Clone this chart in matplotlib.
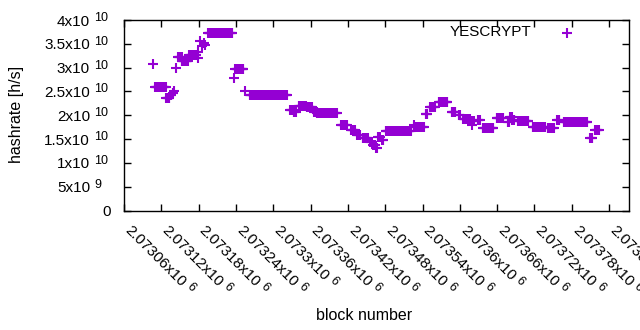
import numpy as np
import matplotlib
matplotlib.use("Agg")
import matplotlib.pyplot as plt
from matplotlib.transforms import ScaledTranslation

plt.rcParams['font.family'] = ['Liberation Sans', 'DejaVu Sans']

# Segments of consecutive blocks sharing the same hashrate estimate (h/s, in 1e10)
seg_start = [2073106, 2073110, 2073128, 2073135, 2073138, 2073141, 2073144, 2073147, 2073153, 2073165,
             2073179, 2073179, 2073182, 2073185, 2073188, 2073191, 2073195, 2073237, 2073239, 2073255,
             2073262, 2073327, 2073333, 2073341, 2073354, 2073366, 2073370, 2073409, 2073425, 2073435,
             2073444, 2073456, 2073461, 2073465, 2073469, 2073475, 2073481, 2073526, 2073527, 2073545,
             2073552, 2073566, 2073587, 2073598, 2073605, 2073617, 2073619, 2073629, 2073637, 2073659,
             2073677, 2073681, 2073684, 2073693, 2073717, 2073741, 2073757, 2073767, 2073810, 2073818]
seg_end = [2073106, 2073127, 2073133, 2073136, 2073139, 2073141, 2073144, 2073153, 2073163, 2073176,
           2073179, 2073179, 2073182, 2073185, 2073188, 2073191, 2073234, 2073237, 2073252, 2073255,
           2073322, 2073331, 2073336, 2073352, 2073362, 2073370, 2073402, 2073418, 2073431, 2073439,
           2073452, 2073458, 2073463, 2073466, 2073471, 2073477, 2073521, 2073526, 2073542, 2073548,
           2073560, 2073580, 2073593, 2073600, 2073616, 2073622, 2073619, 2073632, 2073654, 2073670,
           2073679, 2073684, 2073687, 2073710, 2073737, 2073751, 2073760, 2073805, 2073813, 2073823]
seg_value = [3.07, 2.60, 2.37, 2.42, 2.46, 2.50, 3.00, 3.22, 3.14, 3.27,
             3.33, 3.20, 3.56, 3.45, 3.52, 3.48, 3.736, 2.79, 2.98, 2.505,
             2.435, 2.10, 2.06, 2.20, 2.17, 2.07, 2.04, 1.80, 1.70, 1.58,
             1.53, 1.44, 1.37, 1.32, 1.55, 1.47, 1.66, 1.79, 1.75, 2.03,
             2.18, 2.27, 2.06, 2.00, 1.93, 1.87, 1.79, 1.91, 1.73, 1.95,
             1.86, 1.96, 1.90, 1.87, 1.75, 1.74, 1.90, 1.85, 1.53, 1.68]

x_ticks = [2073060 + 60 * i for i in range(14)]
x_tick_mant = ["2.07306", "2.07312", "2.07318", "2.07324", "2.0733", "2.07336", "2.07342",
               "2.07348", "2.07354", "2.0736", "2.07366", "2.07372", "2.07378", "2.07384"]
x_tick_exp = "6"
y_ticks = [0, 5e9, 1e10, 1.5e10, 2e10, 2.5e10, 3e10, 3.5e10, 4e10]
y_tick_mant = ["0", "5", "1", "1.5", "2", "2.5", "3", "3.5", "4"]
y_tick_exp = ["", "9", "10", "10", "10", "10", "10", "10", "10"]

xs, ys = [], []
for s, e, v in zip(seg_start, seg_end, seg_value):
    blocks = np.arange(s, e + 1)
    xs.append(blocks)
    ys.append(np.full(len(blocks), v * 1e10))
xs = np.concatenate(xs)
ys = np.concatenate(ys)

color = '#9400D3'
FS = 11
SFS = 9
DPI = 100
fig = plt.figure(figsize=(6.4, 3.3), dpi=DPI)
ax = fig.add_axes([124 / 640, 1 - 210.5 / 330, (629 - 124) / 640, (210.5 - 20) / 330])
ax.plot(xs, ys, linestyle='none', marker='+', markersize=6.5, markeredgewidth=1.5, color=color)

ax.set_xlim(2073060, 2073872)
ax.set_ylim(0, 4e10)
ax.set_yticks(y_ticks)
ax.set_xticks(x_ticks)
ax.set_yticklabels([])
ax.set_xticklabels([])
ax.tick_params(direction='in', length=5, width=1, top=True, right=True)
for sp in ax.spines.values():
    sp.set_linewidth(1)


def off(tr, dx, dy):
    return tr + ScaledTranslation(dx / DPI, dy / DPI, fig.dpi_scale_trans)


fig.canvas.draw()
renderer = fig.canvas.get_renderer()

# y tick labels
ytr = ax.get_yaxis_transform()
for v, m, e in zip(y_ticks, y_tick_mant, y_tick_exp):
    if e:
        ax.text(0, v, m + "x10", transform=off(ytr, -34, -5.5), ha='right', va='baseline',
                fontsize=FS, clip_on=False)
        ax.text(0, v, e, transform=off(ytr, -30, -1), ha='left', va='baseline',
                fontsize=SFS, clip_on=False)
    else:
        ax.text(0, v, m, transform=off(ytr, -13, -5.5), ha='right', va='baseline',
                fontsize=FS, clip_on=False)

# x tick labels (rotated -45 degrees)
xtr = ax.get_xaxis_transform()
c = np.sqrt(0.5)
for xv, m in zip(x_ticks, x_tick_mant):
    main = m + "x10"
    ax.text(xv, 0, main, transform=off(xtr, 0, -20.5), rotation=-45, rotation_mode='anchor',
            ha='left', va='baseline', fontsize=FS, clip_on=False)
    tmp = fig.text(0, 0, main, fontsize=FS)
    w = tmp.get_window_extent(renderer).width
    tmp.remove()
    along = w + 4
    raise_ = 4
    dx = along * c + raise_ * c
    dy = -along * c + raise_ * c
    ax.text(xv, 0, x_tick_exp, transform=off(xtr, dx, -20.5 + dy), rotation=-45,
            rotation_mode='anchor', ha='left', va='baseline', fontsize=SFS, clip_on=False)

fig.text(364 / 640, 1 - 316 / 330, "block number", ha='center', va='center', fontsize=11.5)
fig.text(17 / 640, 1 - 114 / 330, "hashrate [h/s]", ha='center', va='center', rotation=90,
         fontsize=11.5)

# legend
ax.text(0.807, 0.935, "YESCRYPT", transform=ax.transAxes, ha='right', va='center', fontsize=FS)
ax.plot([0.878], [0.93], transform=ax.transAxes, marker='+', markersize=6.5,
        markeredgewidth=1.5, color=color, linestyle='none', clip_on=False)

fig.savefig("out.png", dpi=DPI)
